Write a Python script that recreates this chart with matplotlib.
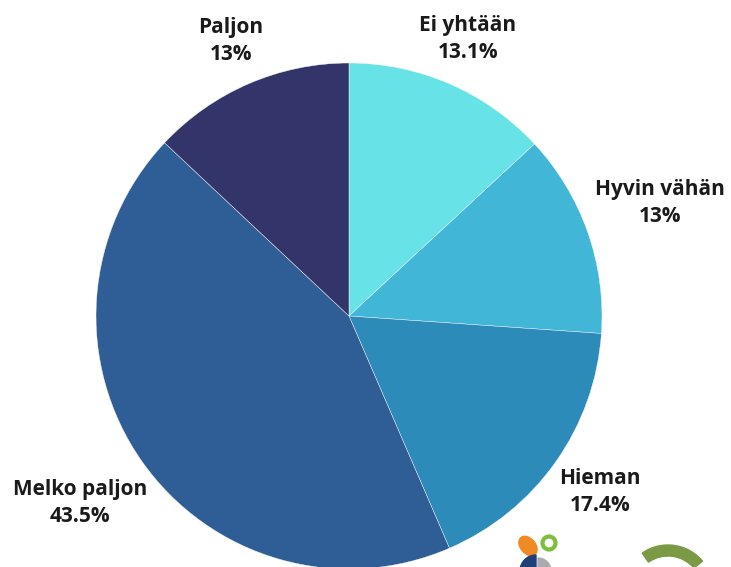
import matplotlib.pyplot as plt
from matplotlib.patches import Ellipse, Circle, Wedge

# Data
categories = ["Ei yhtään", "Hyvin vähän", "Hieman", "Melko paljon", "Paljon"]
values = [13.1, 13.0, 17.4, 43.5, 13.0]
value_labels = ["13.1%", "13%", "17.4%", "43.5%", "13%"]
colors = ["#67E3E8", "#41B6D6", "#2D8BB9", "#2F5E97", "#32346A"]

W, H = 731, 567
fig = plt.figure(figsize=(W / 100, H / 100), dpi=100)
ax = fig.add_axes([0, 0, 1, 1])

cx, cy, r = 349, H - 316, 253
ax.pie(values, colors=colors, startangle=90, counterclock=False,
       center=(cx, cy), radius=r, frame=True,
       wedgeprops=dict(edgecolor="#f4f8fb", linewidth=0.3))
ax.set_xlim(0, W)
ax.set_ylim(0, H)
ax.set_aspect("equal")
ax.axis("off")

# label positions (pixel coords, top-left origin)
label_pos = [(468, 39), (660, 203), (600, 492), (80, 503), (231, 41)]
for name, val, (x, y) in zip(categories, value_labels, label_pos):
    ax.text(x, H - y, f"{name}\n{val}", ha="center", va="center",
            fontsize=15, fontweight="bold", family="Open Sans",
            color="#1a1a1a", linespacing=1.4)

# partial logos in the bottom-right corner
ax.add_patch(Ellipse((528, H - 546), 15, 22, angle=40, color="#F08A24"))
ax.add_patch(Circle((549, H - 543), 6.5, fill=False, lw=3, color="#7DBE3C"))
ax.add_patch(Wedge((536, H - 571), 16, 90, 180, color="#1F3F7A"))
ax.add_patch(Wedge((538, H - 571), 13, 0, 90, color="#A9ABAE"))
ax.add_patch(Wedge((668, H - 590), 45, 40, 125, width=11, color="#7A9A45"))

fig.savefig("out.png", dpi=100)
plt.close(fig)
